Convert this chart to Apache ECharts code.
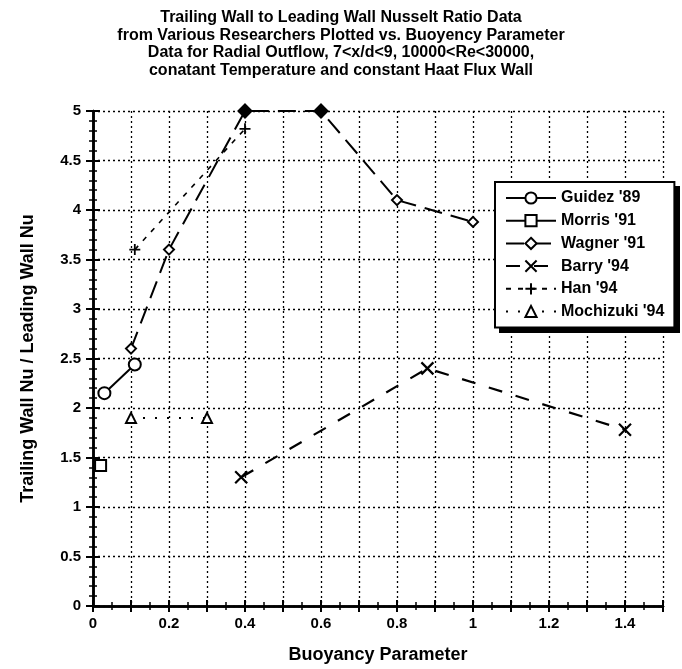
<!DOCTYPE html>
<html>
<head>
<meta charset="utf-8">
<script src="https://cdn.jsdelivr.net/npm/echarts@6/dist/echarts.min.js"></script>
<style>
html, body { margin: 0; padding: 0; background: #fff; }
#chart { width: 682px; height: 669px; }
</style>
</head>
<body>
<div id="chart"></div>
<script>
// values
var seriesNames = ["Guidez '89", "Morris '91", "Wagner '91", "Barry '94", "Han '94", "Mochizuki '94"];
var guidezX = [0.03, 0.11];
var guidezY = [2.15, 2.44];
var morrisX = [0.02];
var morrisY = [1.42];
var wagnerX = [0.1, 0.2, 0.4, 0.6, 0.8, 1.0];
var wagnerY = [2.6, 3.6, 5, 5, 4.1, 3.88];
var barryX = [0.39, 0.88, 1.4];
var barryY = [1.3, 2.4, 1.78];
var hanX = [0.11, 0.4];
var hanY = [3.6, 4.82];
var mochiX = [0.1, 0.3];
var mochiY = [1.9, 1.9];
var xTicks = [0, 0.2, 0.4, 0.6, 0.8, 1, 1.2, 1.4];

var FONT = 'Liberation Sans';

function pairs(xs, ys) {
    var out = [];
    for (var i = 0; i < xs.length; i++) out.push([xs[i], ys[i]]);
    return out;
}

var crossSym = 'path://M0,0L10,10M10,0L0,10';
var plusSym = 'path://M5,0L5,10M0,5L10,5';

function lineSeries(name, data, symbol, size, dash, width) {
    return {
        name: name,
        type: 'line',
        data: data,
        symbol: symbol,
        symbolSize: size,
        clip: false,
        lineStyle: {color: '#000', width: width, type: dash},
        itemStyle: {color: '#fff', borderColor: '#000', borderWidth: 2}
    };
}

var wagnerData = pairs(wagnerX, wagnerY).map(function (p) {
    // the two points on the top edge are drawn filled
    if (p[1] >= 5) return {value: p, symbolSize: 13, itemStyle: {color: '#000'}};
    return p;
});

var series = [
    lineSeries(seriesNames[0], pairs(guidezX, guidezY), 'circle', 12, 'solid', 2),
    lineSeries(seriesNames[1], pairs(morrisX, morrisY), 'rect', 11, 'solid', 2),
    lineSeries(seriesNames[2], wagnerData, 'diamond', 10, [18, 9], 2),
    lineSeries(seriesNames[3], pairs(barryX, barryY), crossSym, 12, [14, 14], 2.2),
    lineSeries(seriesNames[4], pairs(hanX, hanY), plusSym, 11, [5, 7], 1.6),
    lineSeries(seriesNames[5], pairs(mochiX, mochiY), 'triangle', 10, [2, 10], 2)
];
series[3].itemStyle = {color: '#000', borderColor: '#000', borderWidth: 2.2};
series[4].itemStyle = {color: '#000', borderColor: '#000', borderWidth: 1.8};

var dotted = {show: true, lineStyle: {color: '#000', width: 1.3, type: [2, 3]}};

function xBase(pos) {
    return {type: 'value', position: pos, min: 0, max: 1.5, interval: 0.1,
        axisLabel: {show: false}, splitLine: {show: false},
        axisLine: {show: false, lineStyle: {color: '#000', width: 2.5}}};
}
function yBase(pos) {
    return {type: 'value', position: pos, min: 0, max: 5, interval: 0.5,
        axisLabel: {show: false}, splitLine: {show: false},
        axisLine: {show: false, lineStyle: {color: '#000', width: 2.5}}};
}

var xMain = xBase('bottom');
xMain.axisLine.show = true;
xMain.axisTick = {show: true, inside: false, length: 6, lineStyle: {color: '#000', width: 2}};
xMain.splitLine = dotted;
xMain.axisLabel = {show: true, margin: 10, color: '#000', fontFamily: FONT, fontWeight: 'bold', fontSize: 15,
    formatter: function (v) {
        var k = Math.round(v * 10);
        return xTicks.indexOf(k / 10) >= 0 ? String(k / 10) : '';
    }};
xMain.name = 'Buoyancy Parameter';
xMain.nameLocation = 'middle';
xMain.nameGap = 40;
xMain.nameTextStyle = {color: '#000', fontFamily: FONT, fontWeight: 'bold', fontSize: 18};

var xIn = xBase('bottom');
xIn.axisTick = {show: true, inside: true, length: 6, lineStyle: {color: '#000', width: 2}};
xIn.minorTick = {show: true, splitNumber: 2, length: 4, lineStyle: {color: '#000', width: 1.5}};

var xTop = xBase('top');
xTop.axisLine.show = true;
xTop.axisTick = {show: true, inside: true, length: 6, lineStyle: {color: '#000', width: 2}};
xTop.minorTick = {show: true, splitNumber: 2, length: 4, lineStyle: {color: '#000', width: 1.5}};

var yMain = yBase('left');
yMain.axisLine.show = true;
yMain.axisTick = {show: true, inside: false, length: 7, lineStyle: {color: '#000', width: 2}};
yMain.splitLine = dotted;
yMain.axisLabel = {show: true, margin: 12, color: '#000', fontFamily: FONT, fontWeight: 'bold', fontSize: 15};
yMain.name = 'Trailing Wall Nu / Leading Wall Nu';
yMain.nameLocation = 'middle';
yMain.nameGap = 56;
yMain.nameTextStyle = {color: '#000', fontFamily: FONT, fontWeight: 'bold', fontSize: 18};

var yIn = yBase('left');
yIn.axisTick = {show: true, inside: true, length: 7, lineStyle: {color: '#000', width: 2}};
yIn.minorTick = {show: true, splitNumber: 5, length: 4, lineStyle: {color: '#000', width: 1.5}};

var yRight = yBase('right');
yRight.axisLine.show = true;
yRight.axisTick = {show: true, inside: true, length: 7, lineStyle: {color: '#000', width: 2}};
yRight.minorTick = {show: true, splitNumber: 5, length: 4, lineStyle: {color: '#000', width: 1.5}};

var myChart = echarts.init(document.getElementById('chart'), null, {renderer: 'canvas'});
var option = {
    backgroundColor: '#fff',
    animation: false,
    title: {
        text: 'Trailing Wall to Leading Wall Nusselt Ratio Data\n' +
              'from Various Researchers Plotted vs. Buoyency Parameter\n' +
              'Data for Radial Outflow, 7<x/d<9, 10000<Re<30000,\n' +
              'conatant Temperature and constant Haat Flux Wall',
        left: 'center',
        top: 4,
        textStyle: {color: '#000', fontFamily: FONT, fontWeight: 'bold', fontSize: 16, lineHeight: 17.5}
    },
    legend: {
        orient: 'vertical',
        left: 495,
        top: 182,
        padding: [8, 10, 8, 10],
        itemGap: 6.7,
        itemWidth: 50,
        itemHeight: 14,
        data: seriesNames,
        backgroundColor: '#fff',
        borderColor: '#000',
        borderWidth: 2,
        textStyle: {color: '#000', fontFamily: FONT, fontWeight: 'bold', fontSize: 16}
    },
    // drop shadow behind the legend box
    graphic: [{
        type: 'rect',
        left: 499,
        top: 186,
        z: 3,
        shape: {width: 181, height: 147},
        style: {fill: '#000'}
    }],
    grid: {left: 93, right: 19, top: 111, bottom: 60},
    xAxis: [xMain, xIn, xTop],
    yAxis: [yMain, yIn, yRight],
    series: series
};
myChart.setOption(option);
</script>
</body>
</html>
